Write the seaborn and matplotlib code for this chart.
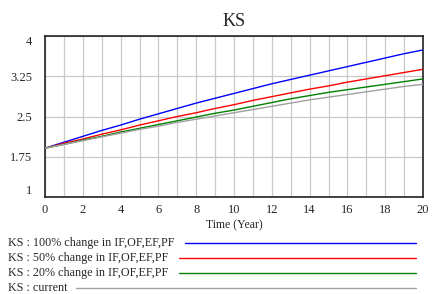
import numpy as np
import pandas as pd
import matplotlib
matplotlib.use("Agg")
import matplotlib.pyplot as plt
from matplotlib.lines import Line2D
import seaborn as sns

# ------------------------------------------------------------------
# Dados
# ------------------------------------------------------------------
years = list(range(0, 21))
ks_100 = [1.91, 2.02, 2.13, 2.24, 2.34, 2.45, 2.55, 2.65, 2.75, 2.84, 2.93,
          3.02, 3.11, 3.19, 3.27, 3.35, 3.43, 3.51, 3.59, 3.67, 3.74]
ks_50 = [1.91, 2.00, 2.08, 2.17, 2.25, 2.34, 2.42, 2.50, 2.57, 2.65, 2.72,
         2.80, 2.87, 2.94, 3.01, 3.07, 3.14, 3.20, 3.26, 3.32, 3.38]
ks_20 = [1.91, 1.98, 2.06, 2.13, 2.21, 2.28, 2.35, 2.42, 2.49, 2.56, 2.62,
         2.69, 2.76, 2.83, 2.89, 2.95, 3.00, 3.05, 3.10, 3.15, 3.20]
ks_current = [1.91, 1.98, 2.05, 2.12, 2.19, 2.26, 2.32, 2.39, 2.45, 2.51, 2.57,
              2.63, 2.69, 2.75, 2.81, 2.86, 2.91, 2.96, 3.01, 3.06, 3.10]

series_names = ["KS : 100% change in IF,OF,EF,PF",
                "KS : 50% change in IF,OF,EF,PF",
                "KS : 20% change in IF,OF,EF,PF",
                "KS : current"]
series_colors = ["#0000ff", "#ff0000", "#008000", "#a0a0a0"]
y_ticks = [1, 1.75, 2.5, 3.25, 4]
y_tick_labels = ["1", "1.75", "2.5", "3.25", "4"]
x_ticks = list(range(0, 21, 2))

df = pd.DataFrame({
    "year": years * 4,
    "value": ks_100 + ks_50 + ks_20 + ks_current,
    "series": sum([[n] * len(years) for n in series_names], []),
})

# ------------------------------------------------------------------
# Gráfico
# ------------------------------------------------------------------
sns.set_style("white")
plt.rcParams["font.family"] = ["Liberation Serif", "DejaVu Serif"]

fig = plt.figure(figsize=(4.35, 2.94), dpi=100)
ax = fig.add_axes([45 / 435, 1 - 197 / 294, (423 - 45) / 435, (197 - 36) / 294])

sns.lineplot(data=df, x="year", y="value", hue="series", hue_order=series_names,
             palette=series_colors, linewidth=1.0, legend=False, ax=ax, zorder=3)

ax.set_xlim(0, 20)
ax.set_ylim(1, 4)
ax.set_xticks(x_ticks)
ax.set_xticks(years, minor=True)
ax.set_yticks(y_ticks)
ax.set_yticklabels(y_tick_labels)
ax.grid(True, which="both", color="#c8c8c8", linewidth=0.9)
ax.set_axisbelow(True)
ax.tick_params(axis="both", which="both", length=0, labelsize=9)
ax.tick_params(axis="y", pad=9)
ax.tick_params(axis="x", pad=5)
# rótulos extremos ficam dentro da área, como no original
ylabels = ax.get_yticklabels()
ylabels[0].set_va("bottom")
ylabels[-1].set_va("top")
for s in ax.spines.values():
    s.set_color("#222222")
    s.set_linewidth(1.2)

ax.set_title("KS", fontsize=13, pad=7)
ax.set_xlabel("Time (Year)", fontsize=8.5, labelpad=2.5)
ax.set_ylabel("")

# Legenda no estilo Vensim (texto + linha)
line_starts = [185, 179, 179, 76]
for i, (name, color) in enumerate(zip(series_names, series_colors)):
    y_px = 242.7 + 15.2 * i
    fig.text(8 / 435, 1 - y_px / 294, name, fontsize=8.7, va="center", ha="left")
    fig.add_artist(Line2D([line_starts[i] / 435, 416 / 435],
                          [1 - y_px / 294, 1 - y_px / 294],
                          color=color, linewidth=1.0, transform=fig.transFigure))

fig.savefig("out.png", dpi=100)
